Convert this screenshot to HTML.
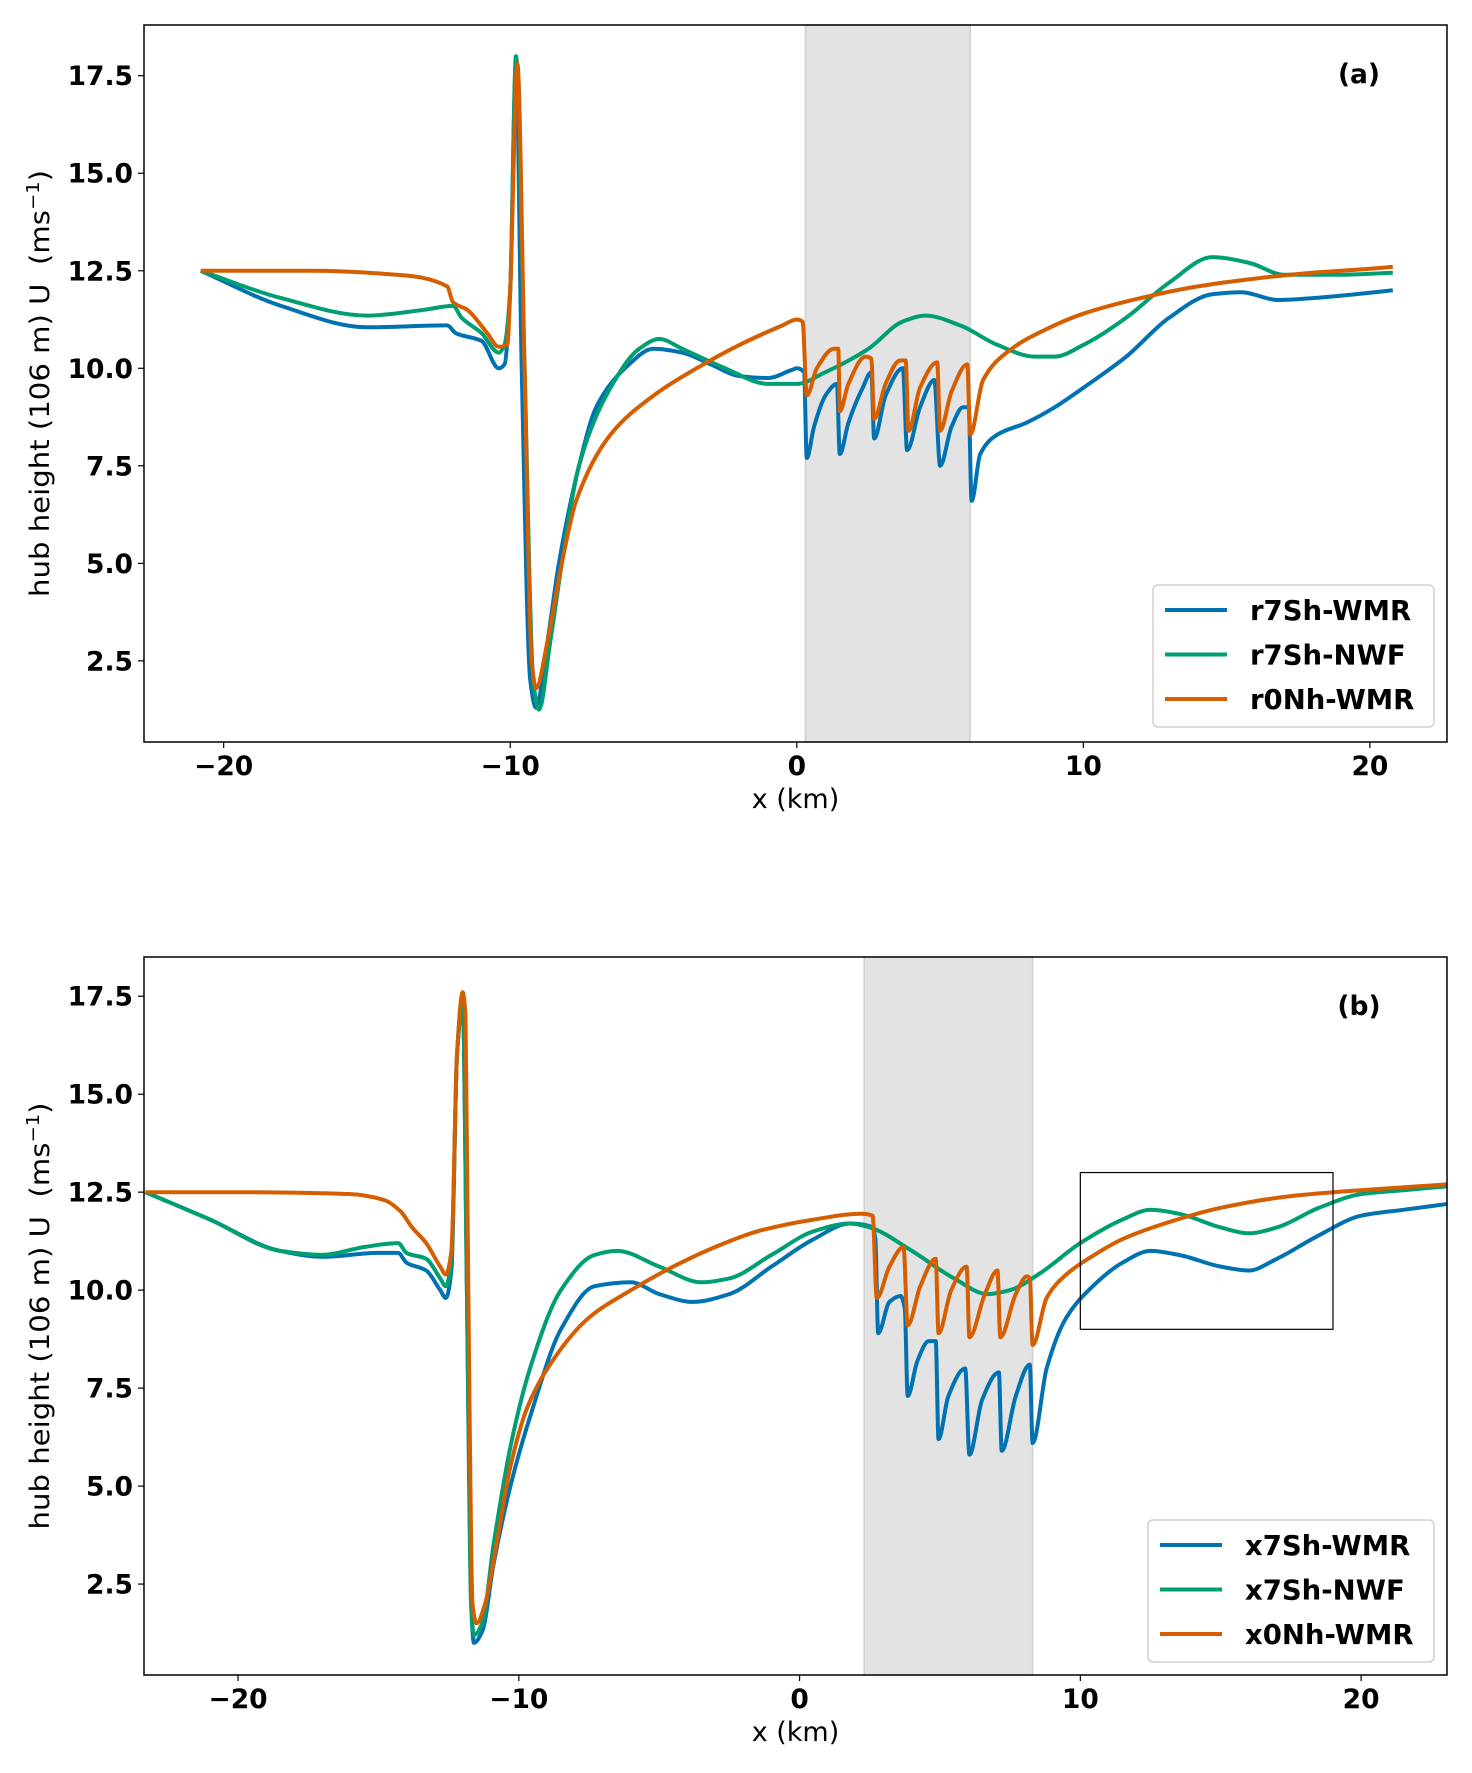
<!DOCTYPE html>
<html><head><meta charset="utf-8"><style>
html,body{margin:0;padding:0;background:#fff}
svg{display:block}
text{font-family:"DejaVu Sans","Liberation Sans",sans-serif}
.tk{font-weight:bold;font-size:26.5px}
.lg{font-weight:bold;font-size:27.5px}
</style></head><body>
<svg id="chart" width="1472" height="1773" viewBox="0 0 1472 1773" xmlns="http://www.w3.org/2000/svg"></svg>
<script>
// ---- Panel (a) data ----
const aBlueX=[-20.8,-18,-15,-12.2,-11.9,-11,-10.4,-10.2,-10,-9.8,-9.6,-9.3,-9.1,-8.7,-8.3,-7.6,-7,-6,-5,-4,-3,-2,-1,-0.2,0,0.25,0.35,0.6,1.0,1.4,1.5,1.8,2.3,2.6,2.7,3.1,3.7,3.85,4.3,4.8,5.0,5.4,5.8,6.0,6.1,6.4,7,8,9,10,11.5,13,14.5,15.5,16.8,18,19.5,20.8];
const aBlueY=[12.5,11.6,11.05,11.1,10.9,10.7,10.0,10.1,12,17.8,10,2,1.3,3,5,7.5,9.0,10.0,10.5,10.4,10.1,9.8,9.75,9.95,10.0,9.9,7.7,8.5,9.3,9.6,7.8,8.6,9.5,9.9,8.2,9.3,10.0,7.9,9.0,9.7,7.5,8.5,9.0,9.0,6.6,7.8,8.3,8.6,9.0,9.5,10.3,11.3,11.9,11.95,11.75,11.8,11.9,12.0];
const aGreenX=[-20.8,-18,-15,-13,-12,-11.7,-11,-10.4,-10.2,-10,-9.8,-9.5,-9.2,-9.0,-8.6,-8.2,-7.6,-6.5,-5.5,-4.8,-4,-2.5,-1,0,1,2.5,3.7,4.5,5.7,7,8.3,9,10,11.5,13,14.5,15.8,17,19,20.8];
const aGreenY=[12.5,11.8,11.35,11.5,11.6,11.3,10.9,10.4,10.6,12,18.0,10,2,1.25,3,5,7.5,9.5,10.5,10.75,10.5,10.0,9.6,9.6,9.9,10.5,11.2,11.35,11.1,10.6,10.3,10.3,10.6,11.3,12.2,12.85,12.7,12.4,12.4,12.45];
const aOrangeX=[-20.8,-17,-14,-12.2,-12,-11.5,-10.8,-10.4,-10.1,-10,-9.75,-9.5,-9.25,-9.1,-8.7,-8.2,-7.7,-6.5,-5,-3.5,-2,-0.5,0,0.2,0.35,0.7,1.3,1.45,1.5,1.8,2.4,2.6,2.7,3.1,3.6,3.8,3.9,4.3,4.9,5.0,5.4,5.95,6.05,6.5,7.5,8.7,10,12,14,16,18,20,20.8];
const aOrangeY=[12.5,12.5,12.4,12.1,11.7,11.5,10.9,10.55,10.6,12,17.8,10,2.5,1.8,3,5,6.6,8.3,9.3,10.0,10.6,11.1,11.25,11.2,9.3,10.0,10.5,10.5,8.9,9.6,10.3,10.25,8.7,9.6,10.2,10.2,8.4,9.5,10.15,8.4,9.4,10.1,8.3,9.7,10.5,11.0,11.4,11.8,12.1,12.3,12.45,12.55,12.6];
const aNames=["r7Sh-WMR","r7Sh-NWF","r0Nh-WMR"];
const aSpan=[0.3,6.05];
// ---- Panel (b) data ----
const bBlueX=[-23.3,-21,-18.5,-17,-15,-14.3,-14,-13.3,-12.8,-12.6,-12.4,-12.2,-12.0,-11.85,-11.7,-11.6,-11.3,-10.9,-10.3,-9.5,-8.5,-7.3,-6,-5,-3.8,-2.5,-1,0.5,1.8,2.6,2.7,2.8,3.2,3.6,3.75,3.85,4.2,4.6,4.85,4.95,5.3,5.9,6.05,6.5,7.1,7.2,7.7,8.2,8.3,8.8,9.5,10.3,11.5,12.5,13.5,15,16,17,18.5,20,21.5,23.1];
const bBlueY=[12.5,11.8,11.0,10.85,10.95,10.95,10.7,10.5,10.0,9.8,10.5,16,17.3,10,2,1.0,1.3,3,5,7,9.0,10.1,10.2,9.9,9.7,9.9,10.6,11.3,11.7,11.6,11.3,8.9,9.7,9.85,9.5,7.3,8.2,8.7,8.7,6.2,7.3,8.0,5.8,7.2,7.9,5.9,7.3,8.1,6.1,8.0,9.3,10.0,10.7,11.0,10.9,10.6,10.5,10.8,11.4,11.9,12.05,12.2];
const bGreenX=[-23.3,-21,-18.5,-17,-15.5,-14.3,-14,-13.3,-12.8,-12.6,-12.4,-12.2,-12.0,-11.85,-11.7,-11.6,-11.3,-10.9,-10.3,-9.6,-8.5,-7.3,-6.5,-5,-3.5,-2.5,-1,0.5,1.8,2.5,4,5.5,6.7,7.5,8.5,10,11.5,12.5,13.5,15,16,17,18.5,20,21.5,23.1];
const bGreenY=[12.5,11.8,11.0,10.9,11.1,11.2,10.95,10.8,10.3,10.1,10.8,16,17.5,10,2,1.2,1.5,3.5,6,8,10.0,10.9,11.0,10.6,10.2,10.3,10.9,11.5,11.7,11.6,11.0,10.3,9.9,10.0,10.4,11.2,11.8,12.05,11.95,11.6,11.45,11.6,12.1,12.45,12.55,12.65];
const bOrangeX=[-23.3,-20,-16,-14.8,-14.2,-13.8,-13.3,-12.8,-12.6,-12.4,-12.2,-12.0,-11.9,-11.8,-11.65,-11.5,-11.2,-10.8,-10.3,-9.7,-8.7,-7.5,-6,-4.5,-3,-1.5,0.5,2.2,2.6,2.75,3.2,3.7,3.85,4.3,4.85,4.95,5.4,5.95,6.05,6.6,7.05,7.15,7.7,8.1,8.2,8.3,8.8,9.5,10.5,11.5,13,15,17.5,20,23.1];
const bOrangeY=[12.5,12.5,12.45,12.3,12.0,11.6,11.2,10.6,10.4,11,16,17.6,17,10,2,1.5,2,3.5,5.5,7,8.3,9.3,10.0,10.6,11.1,11.5,11.8,11.95,11.9,9.8,10.6,11.1,9.1,10.1,10.8,8.9,10.0,10.6,8.8,9.9,10.5,8.8,9.9,10.35,10.3,8.6,9.8,10.4,10.9,11.3,11.7,12.1,12.4,12.55,12.7];
const bNames=["x7Sh-WMR","x7Sh-NWF","x0Nh-WMR"];
const bSpan=[2.3,8.3];
const bBox=[10,19,9,13];
const xTicks=[-20,-10,0,10,20];
const yTicks=[2.5,5.0,7.5,10.0,12.5,15.0,17.5];
const colors=["#0072B2","#009E73","#D55E00"];

const NS="http://www.w3.org/2000/svg";
const svg=document.getElementById("chart");
function mk(tag,attrs,parent){const e=document.createElementNS(NS,tag);for(const k in attrs)e.setAttribute(k,attrs[k]);(parent||svg).appendChild(e);return e;}

// monotone cubic path through pixel points
function monoPath(px,py){
  const n=px.length;const d=[],m=new Array(n);
  for(let i=0;i<n-1;i++)d.push((py[i+1]-py[i])/(px[i+1]-px[i]));
  m[0]=d[0];m[n-1]=d[n-2];
  for(let i=1;i<n-1;i++){
    if(d[i-1]*d[i]<=0)m[i]=0;
    else{const h0=px[i]-px[i-1],h1=px[i+1]-px[i];const w1=2*h1+h0,w2=h1+2*h0;m[i]=(w1+w2)/(w1/d[i-1]+w2/d[i]);}
  }
  let s="M"+px[0].toFixed(1)+","+py[0].toFixed(1);
  for(let i=0;i<n-1;i++){
    const h=(px[i+1]-px[i])/3;
    s+=" C"+(px[i]+h).toFixed(1)+","+(py[i]+m[i]*h).toFixed(1)+" "+(px[i+1]-h).toFixed(1)+","+(py[i+1]-m[i+1]*h).toFixed(1)+" "+px[i+1].toFixed(1)+","+py[i+1].toFixed(1);
  }
  return s;
}

function panel(o){
  const g=mk("g",{});
  
  
  const sx=v=>o.L+(v-o.x0)/(o.x1-o.x0)*(o.R-o.L);
  const sy=v=>o.B-(v-o.y0)/(o.y1-o.y0)*(o.B-o.T);
  const span=mk("rect",{x:sx(o.span[0]),y:o.T,width:sx(o.span[1])-sx(o.span[0]),height:o.B-o.T,fill:"#e3e3e3",stroke:"#cfcfcf","stroke-width":1.5},g);
  
  
  const clipId="clip"+o.id;
  const cp=mk("clipPath",{id:clipId},g);
  mk("rect",{x:o.L,y:o.T,width:o.R-o.L,height:o.B-o.T},cp);
  o.series.forEach((s,i)=>{
    const d=monoPath(s[0].map(sx),s[1].map(sy));
    const p=mk("path",{d:d,fill:"none",stroke:colors[i],"stroke-width":4,"stroke-linejoin":"round","clip-path":"url(#"+clipId+")"},g);
    
    
  });
  if(o.box){
    const b=mk("rect",{x:sx(o.box[0]),y:sy(o.box[3]),width:sx(o.box[1])-sx(o.box[0]),height:sy(o.box[2])-sy(o.box[3]),fill:"none",stroke:"#000","stroke-width":1.2},g);
    
    
  }
  const fr=mk("rect",{x:o.L,y:o.T,width:o.R-o.L,height:o.B-o.T,fill:"none",stroke:"#000","stroke-width":1.5},g);
  
  
  xTicks.forEach(t=>{
    const x=sx(t);
    mk("line",{x1:x,x2:x,y1:o.B,y2:o.B+6,stroke:"#000","stroke-width":1.2},g);
    const tx=mk("text",{x:x,y:o.B+33,"text-anchor":"middle",class:"tk"},g);
    tx.textContent=(t<0?"\u2212"+(-t):t);
    
    
  });
  yTicks.forEach(t=>{
    const y=sy(t);
    mk("line",{x1:o.L-6,x2:o.L,y1:y,y2:y,stroke:"#000","stroke-width":1.2},g);
    const tx=mk("text",{x:o.L-11,y:y+9.5,"text-anchor":"end",class:"tk"},g);
    tx.textContent=t.toFixed(1);
    
    
  });
  const xl=mk("text",{x:(o.L+o.R)/2,y:o.B+66,"text-anchor":"middle","font-size":"27"},g);
  xl.textContent="x (km)";
  
  
  const cy=(o.T+o.B)/2;
  const yl=mk("text",{x:0,y:0,"text-anchor":"middle","font-size":"27",transform:"translate(49,"+cy+") rotate(-90)",textLength:"427",lengthAdjust:"spacingAndGlyphs"},g);
  yl.innerHTML="hub height (106 m) U&#160;&#160;(ms<tspan dy='-10' font-size='18'>\u22121</tspan><tspan dy='10'>)</tspan>";
  
  
  const pl=mk("text",{x:o.R-88,y:o.T+58,"text-anchor":"middle",class:"tk","font-size":"28"},g);
  pl.textContent=o.label;
  
  
  const lg=mk("g",{},g);
  
  
  mk("rect",{x:o.lg[0],y:o.lg[1],width:o.lg[2],height:142,rx:5,fill:"#fff",stroke:"#d0d0d0","stroke-width":1.5},lg);
  o.names.forEach((n,i)=>{
    const y=o.lg[1]+25+i*44.5;
    const e=mk("g",{},lg);
    
    
    mk("line",{x1:o.lg[0]+12,x2:o.lg[0]+74,y1:y,y2:y,stroke:colors[i],"stroke-width":4},e);
    const t=mk("text",{x:o.lg[0]+97,y:y+10,class:"lg"},e);
    t.textContent=n;
  });
}
panel({id:"panel-a",L:144,R:1447,T:25,B:742,x0:-22.78,x1:22.69,y0:0.42,y1:18.8,span:aSpan,
  series:[[aBlueX,aBlueY],[aGreenX,aGreenY],[aOrangeX,aOrangeY]],names:aNames,label:"(a)",lg:[1153,585,281]});
panel({id:"panel-b",L:144,R:1447,T:957,B:1675,x0:-23.35,x1:23.06,y0:0.18,y1:18.5,span:bSpan,box:bBox,
  series:[[bBlueX,bBlueY],[bGreenX,bGreenY],[bOrangeX,bOrangeY]],names:bNames,label:"(b)",lg:[1148,1520,286]});
</script>
</body></html>
